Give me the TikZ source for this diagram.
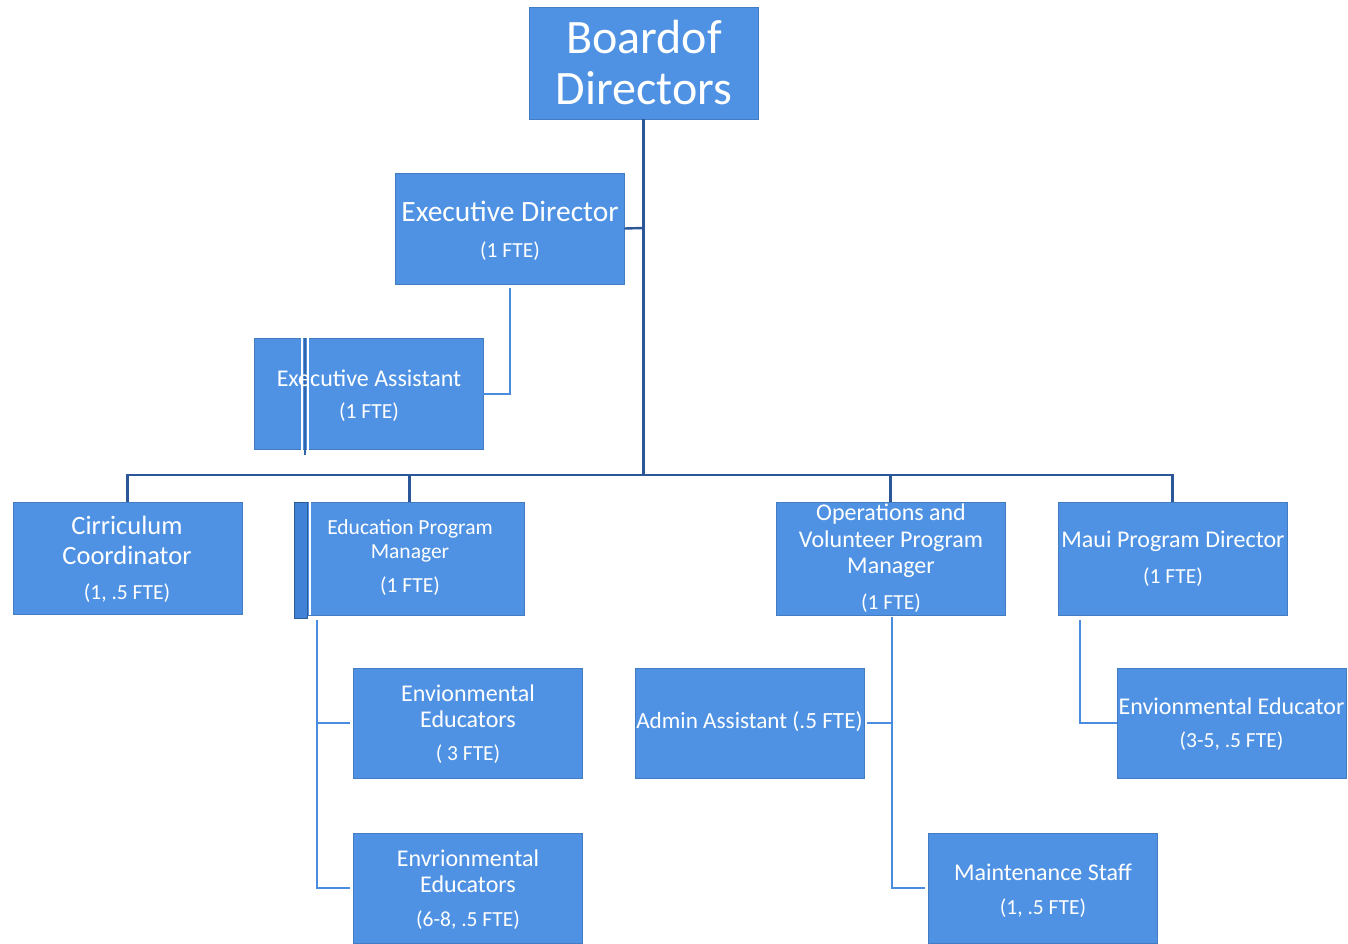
\documentclass[tikz,border=0pt]{standalone}
\usepackage{fontspec}
\setmainfont{Carlito}
\definecolor{boxblue}{HTML}{4F92E3}
\definecolor{navy}{HTML}{2B5799}
\definecolor{lineblue}{HTML}{4A8DE0}
\definecolor{stripblue}{HTML}{3F82D6}
\newcommand{\fs}[1]{\fontsize{#1}{#1}\selectfont}
\tikzset{
  orgbox/.style={rectangle, fill=boxblue, draw=boxblue!85!black, line width=0.6pt, inner sep=0pt, minimum width=229pt, minimum height=111pt},
  lbl/.style={text=white, inner sep=0pt, anchor=center},
  big/.style={lbl, font=\fs{24}},
  small/.style={lbl, font=\fs{21.5}},
  mainline/.style={draw=navy, line width=2.4pt},
  subline/.style={draw=lineblue, line width=2pt},
}
\begin{document}
\begin{tikzpicture}[x=1pt,y=-1pt]
\useasboundingbox (0,0) rectangle (1348,943);
\fill[white] (0,0) rectangle (1348,943);

% boxes
\node[orgbox, minimum height=112pt] (bod) at (643.5,63) {};
\node[orgbox] (ed) at (509.5,228.5) {};
\node[orgbox] (ea) at (368.5,394) {};
\node[orgbox, minimum height=112pt] (cc) at (127.5,558) {};
\node[orgbox, minimum height=113pt] (epm) at (409.5,558.5) {};
\node[orgbox, minimum height=113pt] (ovm) at (890.5,558.5) {};
\node[orgbox, minimum height=113pt] (mpd) at (1172.5,558.5) {};
\node[orgbox, minimum height=110pt] (ee1) at (467.5,723) {};
\node[orgbox, minimum height=110pt] (ee2) at (467.5,888) {};
\node[orgbox, minimum height=110pt] (aa) at (749.5,723) {};
\node[orgbox, minimum height=110pt] (mee) at (1231.5,723) {};
\node[orgbox, minimum height=110pt] (ms) at (1042.5,888) {};

% decorations of the split boxes
\draw[white, line width=1.6pt] (302,338) -- (302,452);
\draw[stripblue!80!black, line width=2.4pt] (305,338) -- (305,455);
\draw[white, line width=1.6pt] (308,338) -- (308,452);
\fill[stripblue, draw=stripblue!70!black, line width=1pt] (294.5,502) rectangle (307,618);
\draw[white, line width=2pt] (310,502) -- (310,615);

% texts
\node[lbl, font=\fs{48}] (bod1) at (644,37) {Boardof};
\node[lbl, font=\fs{48}] (bod2) at (644,88) {Directors};
\node[lbl, font=\fs{29.5}] (ed1) at (510,211) {Executive Director};
\node[small] (ed2) at (510,251) {(1 FTE)};
\node[big] (ea1) at (369,378) {Executive Assistant};
\node[small] (ea2) at (369,412) {(1 FTE)};
\node[lbl, font=\fs{26.5}] (cc1) at (127,525) {Cirriculum};
\node[lbl, font=\fs{26.5}] (cc2) at (127,555) {Coordinator};
\node[small] (cc3) at (127,593) {(1, .5 FTE)};
\node[lbl, font=\fs{21.5}] (epm1) at (410,529) {Education Program};
\node[lbl, font=\fs{21.5}] (epm2) at (410,553) {Manager};
\node[small] (epm3) at (410,586) {(1 FTE)};
\node[big] (ovm1) at (891,514) {Operations and};
\node[big] (ovm2) at (891,541) {Volunteer Program};
\node[big] (ovm3) at (891,568) {Manager};
\node[small] (ovm4) at (891,603) {(1 FTE)};
\node[big] (mpd1) at (1173,541) {Maui Program Director};
\node[small] (mpd2) at (1173,577) {(1 FTE)};
\node[big] (ee11) at (468,693) {Envionmental};
\node[big] (ee12) at (468,719) {Educators};
\node[small] (ee13) at (468,754) {( 3 FTE)};
\node[big] (ee21) at (468,858) {Envrionmental};
\node[big] (ee22) at (468,884) {Educators};
\node[small] (ee23) at (468,920) {(6-8, .5 FTE)};
\node[lbl, font=\fs{23.2}] (aa1) at (749.5,722) {Admin Assistant (.5 FTE)};
\node[big] (mee1) at (1231.5,706) {Envionmental Educator};
\node[small] (mee2) at (1231.5,741) {(3-5, .5 FTE)};
\node[big] (ms1) at (1043,872) {Maintenance Staff};
\node[small] (ms2) at (1043,908) {(1, .5 FTE)};

% coordinates
\coordinate (bus) at (643.5,475);
\coordinate (edj) at (643.5,228);

% main connectors
\draw[mainline] (bod.south) -- (bus);
\draw[mainline] (ed.east) -- (edj);
\draw[mainline] (cc.north) |- (bus) -| (mpd.north);
\draw[mainline] (epm.north) -- (epm.north |- bus);
\draw[mainline] (ovm.north) -- (ovm.north |- bus);

% sub connectors
\coordinate (edb) at (510,288);
\draw[subline] (edb) |- (ea.east);
\coordinate (epb) at (316.5,620);
\draw[subline] (epb) |- ([xshift=-3pt]ee2.west);
\draw[subline] (316.5,723) -- ([xshift=-3pt]ee1.west);
\coordinate (ovb) at (891.5,617);
\draw[subline] (ovb) |- ([xshift=-3pt]ms.west);
\draw[subline] (891.5,723) -- ([xshift=3pt]aa.east);
\coordinate (mpb) at (1080,620);
\draw[subline] (mpb) |- (mee.west);
\end{tikzpicture}
\end{document}
